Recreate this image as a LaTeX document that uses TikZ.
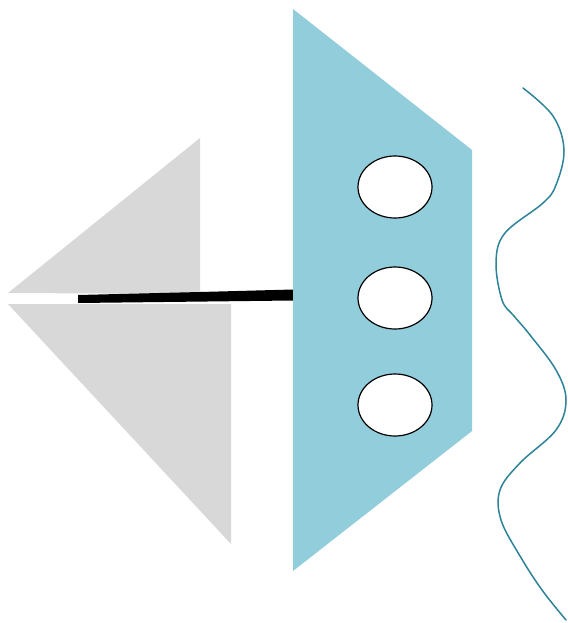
\documentclass[tikz,border=0pt]{standalone}
\definecolor{sailgrey}{HTML}{D8D8D8}
\definecolor{hullblue}{HTML}{92CDDB}
\definecolor{wave}{HTML}{2E8399}
\begin{document}
\begin{tikzpicture}[x=1pt,y=-1pt,
  sail/.style={fill=sailgrey,draw=none},
  hull/.style={fill=hullblue,draw=none},
  port/.style={fill=white,draw=black,line width=1.2pt},
  wavy/.style={draw=wave,line width=1.5pt,line cap=round}]
\useasboundingbox[fill=white] (0,0) rectangle (567,623);
% sails
\fill[sail] (8,293) -- (200,138) -- (200,294) -- cycle;
\fill[sail] (8,304) -- (231,304) -- (231,544) -- cycle;
% mast
\fill[black] (78,295) -- (200,292) -- (293,289.5) -- (293,300.5) -- (78,303) -- cycle;
% hull
\fill[hull] (293,9) -- (472,150) -- (472,431) -- (293,571) -- cycle;
% portholes
\draw[port] (395,187) ellipse [x radius=37, y radius=31];
\draw[port] (395,298) ellipse [x radius=37, y radius=31];
\draw[port] (395,405) ellipse [x radius=37, y radius=31];
% water
\draw[wavy] plot[smooth,tension=0.6] coordinates {(523,88) (553,116) (564,150) (556,185) (543,203) (505,233) (496,262) (502,300) (514,316) (530,335) (556,370) (566,400) (556,430) (520,463) (500,490) (501,520) (520,556) (542,590) (566,620)};
\end{tikzpicture}
\end{document}
